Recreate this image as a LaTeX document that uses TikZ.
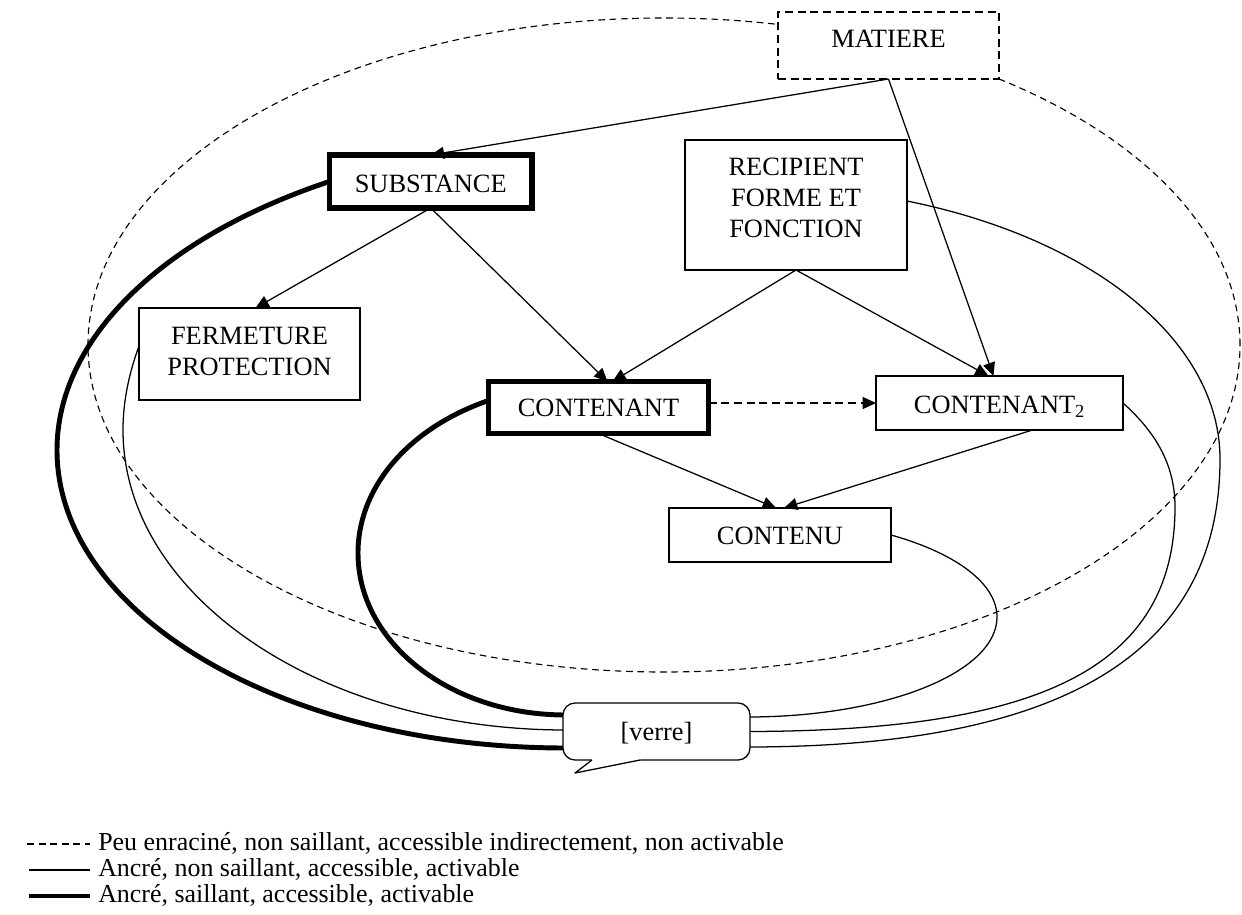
\documentclass[tikz,border=0pt]{standalone}
\usepackage{fontspec}
\setmainfont{Liberation Serif}
\usetikzlibrary{arrows.meta,calc,backgrounds}
\begin{document}
\begin{tikzpicture}[x=0.75pt,y=-0.75pt,
  font=\fontsize{19.8pt}{23.25pt}\selectfont,
  box/.style={draw, fill=white, line width=0.95pt, inner xsep=0pt, inner ysep=0pt, outer sep=0pt},
  tbox/.style={box, line width=4pt},
  mbox/.style={box, dash pattern=on 6pt off 3.5pt},
  arr/.style={line width=0.95pt, -{Triangle[length=10pt,width=9pt]}},
  dasharr/.style={arr, dash pattern=on 6pt off 3.5pt},
  thincurve/.style={line width=0.95pt},
  thickcurve/.style={line width=3.7pt},
  ellcurve/.style={line width=0.85pt, dash pattern=on 5pt off 3.5pt},
  legtext/.style={anchor=base west, inner sep=0pt, font=\fontsize{19.45pt}{23pt}\selectfont}]
\useasboundingbox (0,0) rectangle (1242,914);

% nodes
\node[mbox, minimum width=165.75pt, text height=26.25pt, text depth=24pt] (mat) at (888.5,45.5) {MATIERE};
\node[tbox, minimum width=151.9pt, text height=27.75pt, text depth=12pt] (sub) at (430.75,181.5) {SUBSTANCE};
\node[box, minimum width=166.5pt, text height=26.8pt, text depth=70.7pt] (rec) at (796,205)
  {\begin{tabular}[t]{@{}c@{}}RECIPIENT\\FORME ET\\FONCTION\end{tabular}};
\node[box, minimum width=165.75pt, text height=27.6pt, text depth=41.4pt] (fer) at (249.5,354)
  {\begin{tabular}[t]{@{}c@{}}FERMETURE\\PROTECTION\end{tabular}};
\node[tbox, minimum width=165pt, text height=26.6pt, text depth=12.4pt] (ctn) at (598.5,407.5) {CONTENANT};
\node[box, minimum width=185.25pt, text height=27.75pt, text depth=12.75pt] (c2) at (999.5,403) {CONTENANT\textsubscript{2}};
\node[box, minimum width=166.5pt, text height=27pt, text depth=13.5pt] (cnu) at (780,535) {CONTENU};
\node[box, rounded corners=9pt, minimum width=140.25pt, text height=27.75pt, text depth=15pt] (verre) at (656.5,731.5) {[verre]};

% callout tail of [verre]
\fill[white] ($(verre.south west)+(28,-3)$) -- ($(verre.south west)+(78,-3)$) -- ($(verre.south west)+(77,0)$)
  -- ($(verre.south west)+(12,13)$) -- ($(verre.south west)+(29,0)$) -- cycle;
\draw[line width=0.95pt, line join=round] ($(verre.south west)+(29,0)$) -- ($(verre.south west)+(12,13)$) -- ($(verre.south west)+(77,0)$);

% straight connectors
\draw[arr] (mat.south) -- (sub.north);
\draw[arr] (mat.south) -- ($(c2.north)+(-6,0)$);
\draw[arr] (sub.south) -- ($(fer.north)+(6,0)$);
\draw[arr] (sub.south) -- ($(ctn.north)+(9,0)$);
\draw[arr] (rec.south) -- ($(ctn.north)+(14,0)$);
\draw[arr] (rec.south) -- ($(c2.north)+(-11,0)$);
\draw[dasharr] (ctn.east |- c2.west) -- (c2.west);
\draw[arr] (ctn.south) -- ($(cnu.north)+(-4,0)$);
\draw[arr] ($(c2.south)+(33,0)$) -- ($(cnu.north)+(4,0)$);

\begin{pgfonlayer}{background}
\fill[white] (0,0) rectangle (1242,914);
% dashed ellipse
\draw[ellcurve] (664,345) ellipse [x radius=432pt, y radius=245.25pt];
% thick curves
\draw[thickcurve] (sub.west) .. controls (162,237) and (57,339) .. (57,450)
  .. controls (57,614.6) and (283.5,748) .. ($(verre.south west)+(3,-12)$);
\draw[thickcurve] ($(ctn.west)+(0,-7)$) .. controls (408.2,428.2) and (358,487.4) .. (358,553)
  .. controls (358,642.5) and (449.8,715) .. ($(verre.north west)+(3,12)$);
% thin curves
\draw[thincurve] ($(fer.west)+(0,-8)$) .. controls (128.7,374.2) and (123,402) .. (123,430)
  .. controls (123,595.7) and (320,730) .. ($(verre.west)+(3,-1.5)$);
\draw[thincurve] (cnu.east) .. controls (957.4,553.6) and (997,584.3) .. (997,617)
  .. controls (997,672.2) and (886.4,717) .. ($(verre.north east)+(-3,14)$);
\draw[thincurve] (c2.east) .. controls (1153,430) and (1175,462) .. (1175,507)
  .. controls (1175,675) and (1026,731) .. ($(verre.east)+(-3,0)$);
\draw[thincurve] ($(rec.east)+(0,-4)$) .. controls (1096.4,239.3) and (1220,343) .. (1220,459)
  .. controls (1220,666) and (1041,747) .. ($(verre.south east)+(-3,-13)$);
\end{pgfonlayer}

% legend
\draw[line width=0.9pt, dash pattern=on 5.25pt off 3.4pt] (27,844) -- (90,844);
\node[legtext] (lg1) at (98,850) {Peu enraciné, non saillant, accessible indirectement, non activable};
\draw[line width=0.95pt] (29,870) -- (90,870);
\node[legtext] (lg2) at (98,876) {Ancré, non saillant, accessible, activable};
\draw[line width=3.7pt] (29,896) -- (90,896);
\node[legtext] (lg3) at (98,902) {Ancré, saillant, accessible, activable};
\end{tikzpicture}
\end{document}
